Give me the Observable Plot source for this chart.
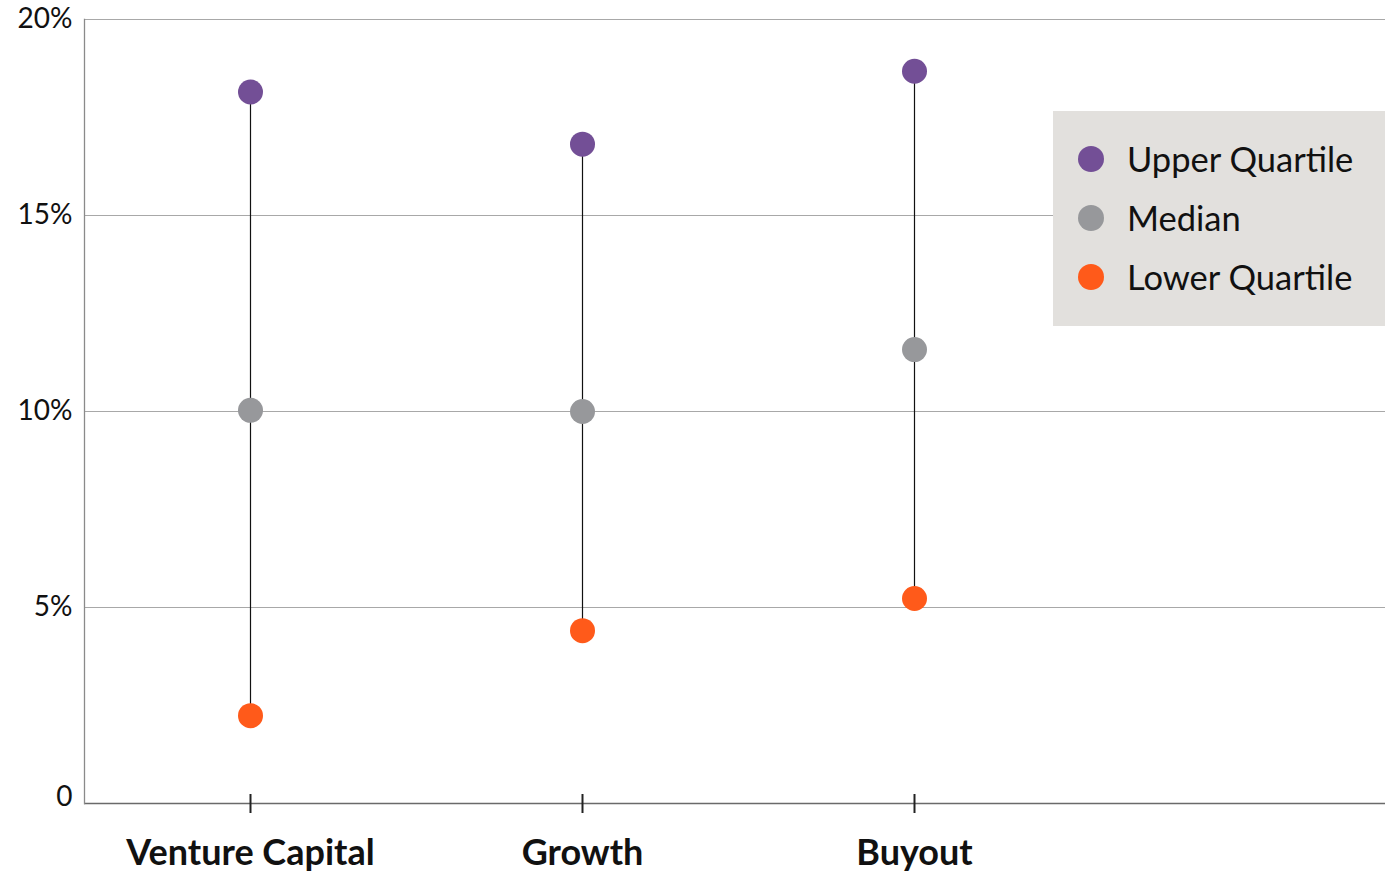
<!DOCTYPE html>
<html>
<head>
<meta charset="utf-8">
<script src="https://cdn.jsdelivr.net/npm/d3@7"></script>
<script src="https://cdn.jsdelivr.net/npm/@observablehq/plot@0.6"></script>
<style>
  html, body { margin: 0; padding: 0; background: #fff; }
  #wrap { position: relative; width: 1385px; height: 875px; }
  #legend {
    position: absolute; left: 1053px; top: 111px; width: 332px; height: 215px;
    background: #e2e0dd; font-family: Lato, sans-serif; font-size: 34.5px; color: #111;
    box-sizing: border-box; padding-top: 18px;
  }
  .item { display: flex; align-items: center; height: 59px; }
  .sw { width: 26px; height: 26px; border-radius: 50%; margin-left: 25px; margin-right: 23px; flex: none; }
</style>
</head>
<body>
<div id="wrap"></div>
<script>
const categories = ["Venture Capital", "Growth", "Buyout"];
const series = ["Upper Quartile", "Median", "Lower Quartile"];
const colors = ["#734f96", "#97989b", "#ff5a1a"];
const upper = [18.15, 16.82, 18.68];
const median = [10.03, 10.0, 11.58];
const lower = [2.24, 4.41, 5.23];
const yTicks = [0, 5, 10, 15, 20];

const points = categories.flatMap((c, i) => [
  {cat: c, series: series[0], value: upper[i]},
  {cat: c, series: series[1], value: median[i]},
  {cat: c, series: series[2], value: lower[i]}
]);
const ranges = categories.map((c, i) => ({cat: c, lo: lower[i], hi: upper[i]}));

const chart = Plot.plot({
  width: 1385,
  height: 875,
  marginLeft: 84,
  marginRight: 0,
  marginTop: 19,
  marginBottom: 72,
  style: {fontFamily: "Lato, sans-serif", background: "transparent", overflow: "visible"},
  x: {type: "point", domain: categories, range: [250, 914], padding: 0, label: null},
  y: {domain: [0, 20], label: null},
  color: {domain: series, range: colors},
  marks: [
    Plot.gridY(yTicks.filter(d => d > 0), {stroke: "#a8a8a8", strokeOpacity: 1, strokeWidth: 1}),
    Plot.ruleY([0], {stroke: "#6a6a6a", strokeWidth: 1.3}),
    Plot.frame({anchor: "left", stroke: "#8a8a8a", strokeWidth: 1.3}),
    Plot.axisY(yTicks.filter(d => d > 0), {tickSize: 0, tickPadding: 12, fontSize: 28, fill: "#111",
      tickFormat: d => d + "%", dy: 0}),
    Plot.axisY([0], {tickSize: 0, tickPadding: 12, fontSize: 28, fill: "#111",
      tickFormat: d => "0", dy: -6}),
    Plot.axisX({tickSize: 0, tickPadding: 36, fontSize: 36, fontWeight: "bold", fill: "#111"}),
    Plot.ruleX(categories, {x: d => d, y1: 0, y2: 0, insetTop: 10, insetBottom: 9, stroke: "#222", strokeWidth: 2}),
    Plot.ruleX(ranges, {x: "cat", y1: "lo", y2: "hi", stroke: "#111", strokeWidth: 1.2}),
    Plot.dot(points, {x: "cat", y: "value", fill: "series", r: 12.5, stroke: null})
  ]
});
const wrap = document.getElementById("wrap");
wrap.appendChild(chart);

const legend = document.createElement("div");
legend.id = "legend";
series.forEach((s, i) => {
  const it = document.createElement("div");
  it.className = "item";
  const sw = document.createElement("span");
  sw.className = "sw";
  sw.style.background = colors[i];
  const t = document.createElement("span");
  t.textContent = s;
  it.appendChild(sw); it.appendChild(t);
  legend.appendChild(it);
});
wrap.appendChild(legend);
</script>
</body>
</html>
